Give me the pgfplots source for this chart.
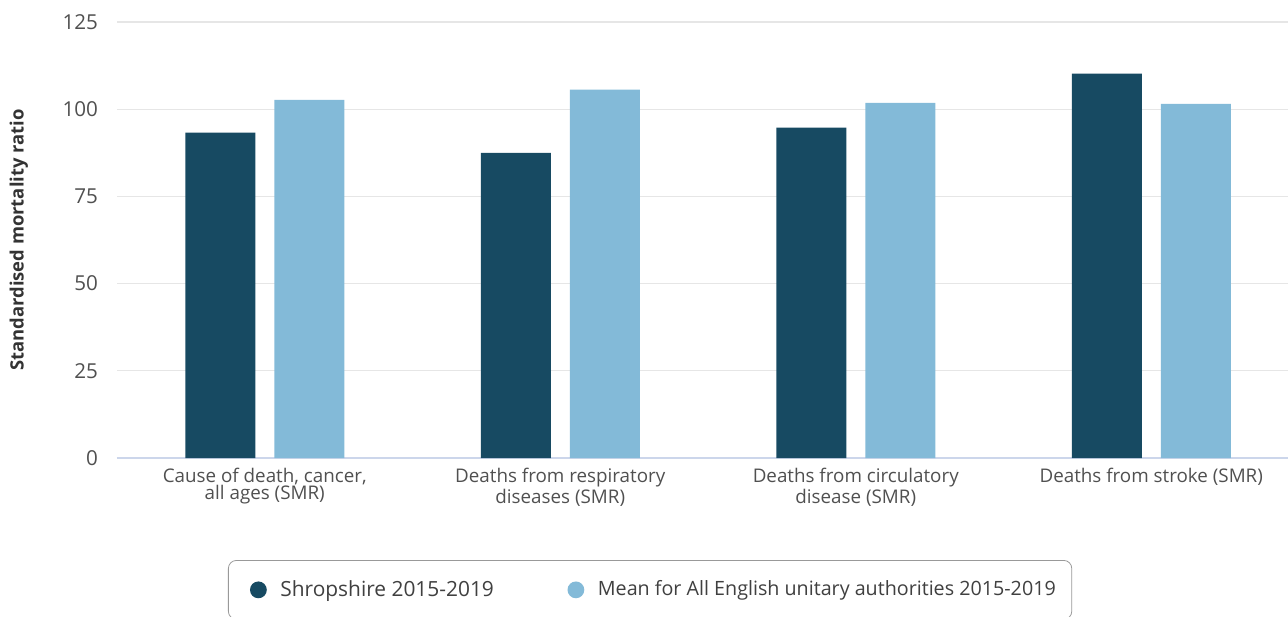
\documentclass[border=0pt]{standalone}
\usepackage{pgfplots}
\pgfplotsset{compat=1.18}
\usepackage{fontspec}
\setmainfont{Open Sans}
\definecolor{darkb}{RGB}{23,74,98}
\definecolor{lightb}{RGB}{131,186,216}
\definecolor{tickc}{RGB}{80,80,80}
\definecolor{gridc}{RGB}{230,230,230}
\definecolor{axc}{RGB}{204,214,235}
\begin{document}
\begin{tikzpicture}
\useasboundingbox (0,0) rectangle (644pt,308pt);
\begin{axis}[
  at={(58.5pt,79pt)}, anchor=south west,
  scale only axis, width=591pt, height=218pt,
  ybar, bar width=35pt,
  xmin=-0.5, xmax=3.5, ymin=0, ymax=125,
  ytick={0,25,50,75,100,125},
  xtick=data,
  xticklabels={{Cause of death, cancer,\\all ages (SMR)},{Deaths from respiratory\\diseases (SMR)},{Deaths from circulatory\\disease (SMR)},{Deaths from stroke (SMR)}},
  xticklabel style={align=center, font=\fontsize{9.4}{8.6}\selectfont, text=tickc, anchor=north, yshift=-1.5pt},
  yticklabel style={font=\fontsize{10.3}{10.3}\selectfont, text=tickc, xshift=-6pt},
  /pgf/number format/assume math mode=true,
  major tick length=0pt,
  axis x line*=bottom, axis y line*=left,
  x axis line style={draw=axc, line width=0.6pt, -},
  y axis line style={draw=none},
  ymajorgrids, grid style={draw=gridc, line width=0.6pt},
  ylabel={\bfseries Standardised mortality ratio},
  ylabel style={at={(axis description cs:-0.083,0.5)}, anchor=center, font=\fontsize{9.2}{9.2}\selectfont, text=black!80},
  legend columns=2,
  legend style={at={(axis description cs:0.0939,-0.234)}, anchor=north west, draw=black!40, rounded corners=4pt, font=\fontsize{10.3}{10.3}\selectfont, text=black!75, inner xsep=6pt, inner ysep=8pt, /tikz/every even column/.append style={column sep=30pt}},
  legend image code/.code={\path (-0.7em,0) (1.1em,0); \fill[#1] (0.2em,0) circle (0.42em);},
]
\addplot[fill=darkb, draw=none, bar shift=-22.25pt] coordinates {(0,93.3) (1,87.5) (2,94.7) (3,110.2)};
\addplot[fill=lightb, draw=none, bar shift=22.25pt] coordinates {(0,102.7) (1,105.6) (2,101.8) (3,101.5)};
\addlegendentry{\fontsize{10.45}{10.45}\selectfont Shropshire 2015-2019}
\addlegendentry{\fontsize{9.85}{10.3}\selectfont Mean for All English unitary authorities 2015-2019}
\end{axis}
\end{tikzpicture}
\end{document}
